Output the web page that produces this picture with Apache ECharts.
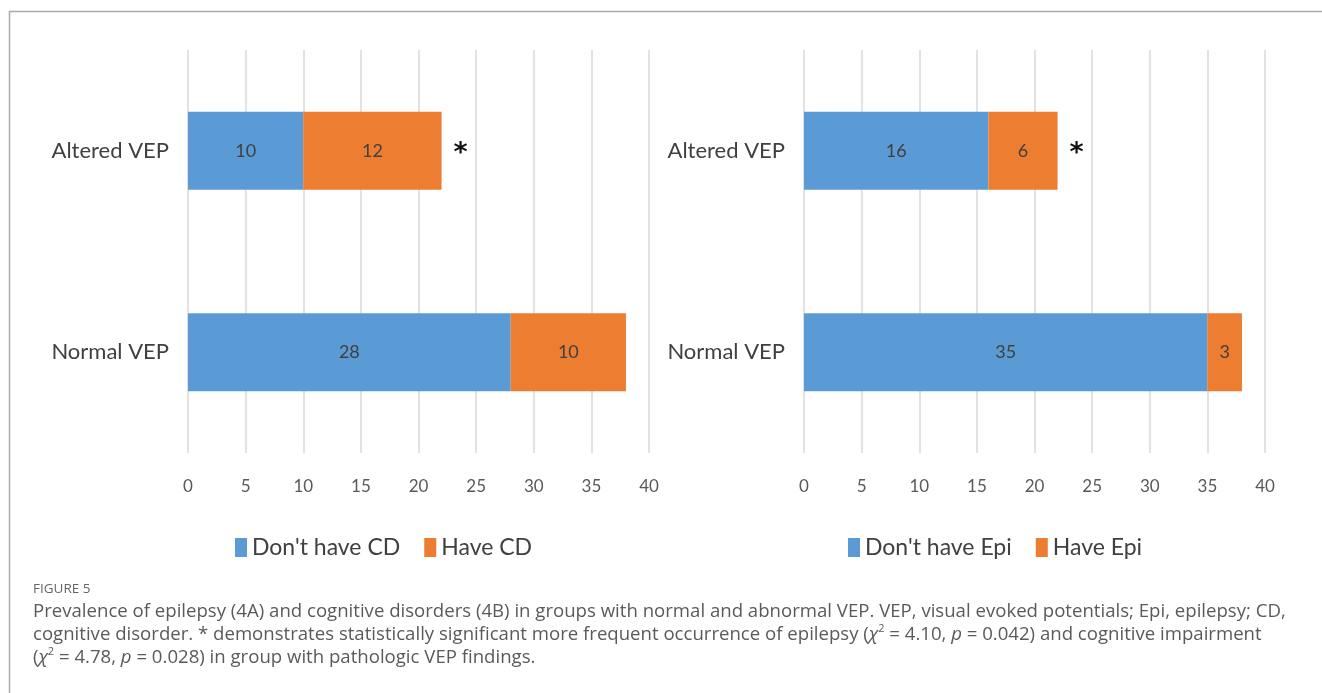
<!DOCTYPE html>
<html>
<head>
<meta charset="utf-8">
<script src="https://cdn.jsdelivr.net/npm/echarts@6/dist/echarts.min.js"></script>
<style>
html,body{margin:0;padding:0;background:#fff;}
#chart{width:1322px;height:693px;}
</style>
</head>
<body>
<div id="chart"></div>
<script>
// ---- data ----
const categories = ['Altered VEP', 'Normal VEP'];
const noCD = [10, 28];
const haveCD = [12, 10];
const noEpi = [16, 35];
const haveEpi = [6, 3];
const significance = ['*', ''];
const xTicks = {min: 0, max: 40, interval: 5};
const seriesNamesA = ["Don't have CD", 'Have CD'];
const seriesNamesB = ["Don't have Epi", 'Have Epi'];

const BLUE = '#5B9BD5', ORANGE = '#ED7D31';
const FONT = 'Lato, "Liberation Sans Narrow", sans-serif';
const CAPFONT = '"Open Sans", sans-serif';
const TXT = '#404040';

function starMarks(totalsA, totalsB) {
  const out = [];
  categories.forEach((c, i) => {
    if (significance[i]) out.push({coord: [totalsA[i] + totalsB[i], c], value: significance[i]});
  });
  return out;
}

function barLabel() {
  return {show: true, position: 'inside', color: TXT, fontFamily: FONT, fontSize: 18};
}

function makeSeries(name, data, color, xi, marks) {
  const s = {
    name, type: 'bar', stack: 's' + xi, xAxisIndex: xi, yAxisIndex: xi,
    data, barWidth: 78, itemStyle: {color}, label: barLabel(), emphasis: {disabled: true}
  };
  if (marks) {
    s.markPoint = {
      symbol: 'rect', symbolSize: 1, itemStyle: {color: 'rgba(0,0,0,0)'},
      label: {show: true, formatter: p => p.value, color: '#111', fontSize: 27, fontWeight: 'bold',
        fontFamily: '"DejaVu Sans", sans-serif', offset: [19, 3]},
      data: marks
    };
  }
  return s;
}

const chart = echarts.init(document.getElementById('chart'));
const axisX = (gi) => ({
  type: 'value', gridIndex: gi, min: xTicks.min, max: xTicks.max, interval: xTicks.interval,
  axisLine: {show: false}, axisTick: {show: false},
  splitLine: {lineStyle: {color: '#d9d9d9', width: 1.5}},
  axisLabel: {color: '#595959', fontFamily: FONT, fontSize: 17, margin: 25}
});
const axisY = (gi) => ({
  type: 'category', gridIndex: gi, data: categories, inverse: true,
  axisLine: {show: false}, axisTick: {show: false},
  axisLabel: {color: TXT, fontFamily: FONT, fontSize: 22, margin: 19}
});
const legend = (left, names) => ({
  left, top: 531, itemWidth: 12, itemHeight: 19, itemGap: 24, icon: 'rect',
  data: names, textStyle: {color: TXT, fontFamily: FONT, fontSize: 23}, selectedMode: false
});

const caption = {
  type: 'text', left: 33, top: 582,
  style: {
    text: '{f|FIGURE 5}\n' +
      '{t|Prevalence of epilepsy (4A) and cognitive disorders (4B) in groups with normal and abnormal VEP. VEP, visual evoked potentials; Epi, epilepsy; CD,}\n' +
      '{t|cognitive disorder. * demonstrates statistically significant more frequent occurrence of epilepsy (}{i|χ}{s|2}{t| = 4.10, }{i|p}{t| = 0.042) and cognitive impairment}\n' +
      '{t|(}{i|χ}{s|2}{t| = 4.78, }{i|p}{t| = 0.028) in group with pathologic VEP findings.}',
    rich: {
      f: {fontFamily: CAPFONT, fontSize: 13.5, fill: '#666', lineHeight: 22},
      t: {fontFamily: CAPFONT, fontSize: 18.6, fill: '#5a5a5a', lineHeight: 23},
      i: {fontFamily: CAPFONT, fontSize: 18.6, fill: '#5a5a5a', fontStyle: 'italic', lineHeight: 23},
      s: {fontFamily: CAPFONT, fontSize: 11, fill: '#5a5a5a', lineHeight: 23, verticalAlign: 'top', padding: [0, 0, 8, 0]}
    }
  }
};

chart.setOption({
  backgroundColor: '#fff',
  animation: false,
  grid: [
    {left: 188, right: 673, top: 50, bottom: 240},
    {left: 804, right: 57, top: 50, bottom: 240}
  ],
  xAxis: [axisX(0), axisX(1)],
  yAxis: [axisY(0), axisY(1)],
  legend: [legend(230, seriesNamesA), legend(843, seriesNamesB)],
  series: [
    makeSeries(seriesNamesA[0], noCD, BLUE, 0),
    makeSeries(seriesNamesA[1], haveCD, ORANGE, 0, starMarks(noCD, haveCD)),
    makeSeries(seriesNamesB[0], noEpi, BLUE, 1),
    makeSeries(seriesNamesB[1], haveEpi, ORANGE, 1, starMarks(noEpi, haveEpi))
  ],
  graphic: [
    {type: 'polyline', shape: {points: [[9.5, 700], [9.5, 11.5], [1330, 11.5]]},
      style: {stroke: '#aaa', lineWidth: 1.5, fill: null}},
    caption
  ]
});
</script>
</body>
</html>
